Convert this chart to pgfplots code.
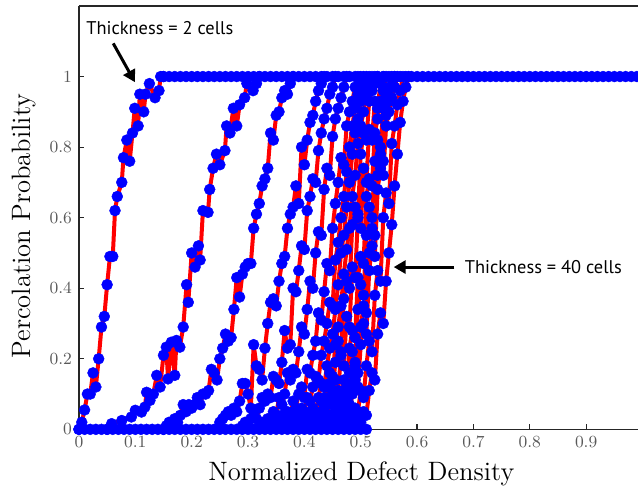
\documentclass[border=0pt]{standalone}
\usepackage{fontspec}
\usepackage{pgfplots}
\pgfplotsset{compat=1.18}
\usetikzlibrary{arrows.meta}
\newfontfamily\annfont{PT Sans}
\definecolor{mred}{RGB}{255,0,0}
\definecolor{mblue}{RGB}{0,0,255}
\begin{document}
\begin{tikzpicture}
\pgfplotsset{curve/.style={mred, line width=2pt, line join=round, line cap=round, mark=*, mark size=2.75pt, mark options={draw=mblue, fill=mblue, solid, line width=0.2pt}}}
\begin{axis}[
  name=ax,
  scale only axis,
  width=279.7pt, height=211.8pt,
  xmin=0, xmax=0.992, ymin=0, ymax=1.2,
  clip=false,
  axis x line=box, axis y line=left,
  axis line style={-, draw=black!85, line width=0.6pt},
  xtick={0,0.1,0.2,0.3,0.4,0.5,0.6,0.7,0.8,0.9},
  xticklabels={0,0.1,0.2,0.3,0.4,0.5,0.6,0.7,0.8,0.9},
  ytick={0,0.2,0.4,0.6,0.8,1},
  yticklabels={0,0.2,0.4,0.6,0.8,1},
  xtick pos=bottom, ytick pos=left,
  tick align=inside, major tick length=2.5pt,
  tick style={black!85, line width=0.6pt},
  tick label style={font=\fontsize{8.5}{10}\selectfont, color=black!65},
  xlabel={Normalized Defect Density},
  ylabel={Percolation Probability},
  label style={font=\fontsize{13.3}{16}\selectfont},
  xlabel style={at={(axis description cs:0.505,-0.1204)}, anchor=base},
  ylabel style={at={(axis description cs:-0.0983,0.48)}, anchor=center},
]
% flat parts (y = 0 and y = 1)
\addplot[curve] coordinates {(0,0)(0.01,0)(0.02,0)(0.03,0)(0.04,0)(0.05,0)(0.06,0)(0.07,0)(0.08,0)(0.09,0)(0.10,0)(0.11,0)(0.12,0)(0.13,0)(0.14,0)(0.15,0)(0.16,0)(0.17,0)(0.18,0)(0.19,0)(0.20,0)(0.21,0)(0.22,0)(0.23,0)(0.24,0)(0.25,0)(0.26,0)(0.27,0)(0.28,0)(0.29,0)(0.30,0)(0.31,0)(0.32,0)(0.33,0)(0.34,0)(0.35,0)(0.36,0)(0.37,0)(0.38,0)(0.39,0)(0.40,0)(0.41,0)(0.42,0)(0.43,0)(0.44,0)(0.45,0)(0.46,0)(0.47,0)(0.48,0)(0.49,0)(0.50,0)(0.51,0)};
\addplot[curve] coordinates {(0.15,1)(0.16,1)(0.17,1)(0.18,1)(0.19,1)(0.20,1)(0.21,1)(0.22,1)(0.23,1)(0.24,1)(0.25,1)(0.26,1)(0.27,1)(0.28,1)(0.29,1)(0.30,1)(0.31,1)(0.32,1)(0.33,1)(0.34,1)(0.35,1)(0.36,1)(0.37,1)(0.38,1)(0.39,1)(0.40,1)(0.41,1)(0.42,1)(0.43,1)(0.44,1)(0.45,1)(0.46,1)(0.47,1)(0.48,1)(0.49,1)(0.50,1)(0.51,1)(0.52,1)(0.53,1)(0.54,1)(0.55,1)(0.56,1)(0.57,1)(0.58,1)(0.59,1)(0.60,1)(0.61,1)(0.62,1)(0.63,1)(0.64,1)(0.65,1)(0.66,1)(0.67,1)(0.68,1)(0.69,1)(0.70,1)(0.71,1)(0.72,1)(0.73,1)(0.74,1)(0.75,1)(0.76,1)(0.77,1)(0.78,1)(0.79,1)(0.80,1)(0.81,1)(0.82,1)(0.83,1)(0.84,1)(0.85,1)(0.86,1)(0.87,1)(0.88,1)(0.89,1)(0.90,1)(0.91,1)(0.92,1)(0.93,1)(0.94,1)(0.95,1)(0.96,1)(0.97,1)(0.98,1)(0.99,1)};
% thickness 2
\addplot[curve] coordinates {(0,0)(0.005,0.02)(0.01,0.055)(0.015,0.10)(0.02,0.10)(0.025,0.16)(0.03,0.12)(0.035,0.20)(0.04,0.29)(0.045,0.32)(0.05,0.41)(0.055,0.49)(0.06,0.49)(0.064,0.62)(0.068,0.66)(0.076,0.70)(0.079,0.77)(0.085,0.82)(0.09,0.76)(0.095,0.84)(0.099,0.91)(0.105,0.86)(0.108,0.95)(0.115,0.90)(0.118,0.95)(0.125,0.98)(0.135,0.94)(0.142,0.96)(0.145,1)(0.15,1)};
% thickness 4
\addplot[curve] coordinates {(0.05,0)(0.058,0.016)(0.076,0.025)(0.093,0.035)(0.1,0.054)(0.111,0.049)(0.117,0.063)(0.12,0.105)(0.126,0.082)(0.132,0.10)(0.138,0.153)(0.144,0.12)(0.15,0.21)(0.155,0.233)(0.158,0.143)(0.164,0.247)(0.17,0.153)(0.173,0.252)(0.179,0.233)(0.185,0.29)(0.191,0.41)(0.194,0.36)(0.2,0.50)(0.206,0.46)(0.212,0.52)(0.215,0.48)(0.22,0.62)(0.229,0.615)(0.232,0.68)(0.238,0.74)(0.244,0.78)(0.25,0.75)(0.259,0.79)(0.262,0.86)(0.268,0.84)(0.274,0.91)(0.28,0.86)(0.285,0.92)(0.294,0.94)(0.298,0.98)(0.309,0.96)(0.315,0.98)(0.32,1)};
% thickness 6
\addplot[curve] coordinates {(0.15,0)(0.155,0.01)(0.16,0.02)(0.165,0.01)(0.17,0.03)(0.175,0.02)(0.18,0.04)(0.185,0.07)(0.19,0.05)(0.195,0.07)(0.2,0.06)(0.205,0.07)(0.21,0.09)(0.215,0.07)(0.22,0.10)(0.225,0.10)(0.23,0.11)(0.235,0.17)(0.24,0.16)(0.245,0.14)(0.25,0.20)(0.255,0.23)(0.26,0.27)(0.265,0.25)(0.27,0.26)(0.275,0.34)(0.28,0.43)(0.285,0.375)(0.29,0.44)(0.295,0.46)(0.3,0.47)(0.305,0.47)(0.31,0.57)(0.315,0.61)(0.32,0.64)(0.325,0.69)(0.33,0.71)(0.335,0.74)(0.34,0.84)(0.345,0.82)(0.35,0.89)(0.355,0.90)(0.36,0.94)(0.365,0.96)(0.37,0.95)(0.375,0.98)(0.38,1)};
% thickness 8
\addplot[curve] coordinates {(0.25,0.02)(0.255,0.03)(0.26,0.04)(0.265,0.05)(0.27,0.04)(0.275,0.06)(0.28,0.05)(0.285,0.08)(0.29,0.13)(0.295,0.13)(0.3,0.10)(0.305,0.06)(0.31,0.24)(0.315,0.18)(0.32,0.17)(0.325,0.14)(0.33,0.23)(0.335,0.30)(0.34,0.36)(0.345,0.37)(0.35,0.35)(0.355,0.42)(0.36,0.47)(0.365,0.49)(0.37,0.57)(0.375,0.61)(0.38,0.63)(0.385,0.69)(0.39,0.64)(0.395,0.80)(0.4,0.75)(0.405,0.82)(0.41,0.87)(0.415,0.89)(0.42,0.93)(0.425,0.96)(0.43,0.98)(0.435,1)};
% thickness 10
\addplot[curve] coordinates {(0.29,0.01)(0.295,0.02)(0.3,0.01)(0.305,0.03)(0.31,0.05)(0.315,0.03)(0.32,0.06)(0.325,0.09)(0.33,0.08)(0.335,0.10)(0.34,0.09)(0.345,0.15)(0.35,0.14)(0.355,0.13)(0.36,0.19)(0.365,0.28)(0.37,0.23)(0.375,0.24)(0.38,0.40)(0.385,0.39)(0.39,0.45)(0.395,0.52)(0.4,0.51)(0.405,0.62)(0.41,0.66)(0.415,0.71)(0.42,0.70)(0.425,0.79)(0.43,0.84)(0.435,0.88)(0.44,0.91)(0.445,0.95)(0.45,0.97)(0.455,1)};
% thickness 12
\addplot[curve] coordinates {(0.32,0.01)(0.325,0.02)(0.33,0.01)(0.335,0.03)(0.34,0.02)(0.345,0.05)(0.35,0.04)(0.355,0.09)(0.36,0.07)(0.365,0.10)(0.37,0.16)(0.375,0.14)(0.38,0.17)(0.385,0.16)(0.39,0.22)(0.395,0.29)(0.4,0.27)(0.405,0.34)(0.41,0.42)(0.415,0.40)(0.42,0.50)(0.425,0.56)(0.43,0.55)(0.435,0.68)(0.44,0.74)(0.445,0.72)(0.45,0.83)(0.455,0.88)(0.46,0.91)(0.465,0.94)(0.47,0.97)(0.475,1)};
% thickness 14
\addplot[curve] coordinates {(0.35,0.01)(0.355,0.02)(0.36,0.04)(0.365,0.02)(0.37,0.05)(0.375,0.03)(0.38,0.08)(0.385,0.06)(0.39,0.10)(0.395,0.12)(0.4,0.09)(0.405,0.17)(0.41,0.16)(0.415,0.21)(0.42,0.25)(0.425,0.33)(0.43,0.31)(0.435,0.39)(0.44,0.47)(0.445,0.45)(0.45,0.57)(0.455,0.64)(0.46,0.70)(0.465,0.77)(0.47,0.75)(0.475,0.86)(0.48,0.90)(0.485,0.93)(0.49,0.97)(0.495,1)};
% thickness 16
\addplot[curve] coordinates {(0.37,0.01)(0.375,0.03)(0.38,0.02)(0.385,0.04)(0.39,0.03)(0.395,0.06)(0.4,0.05)(0.405,0.09)(0.41,0.08)(0.415,0.12)(0.42,0.15)(0.425,0.14)(0.43,0.21)(0.435,0.25)(0.44,0.30)(0.445,0.36)(0.45,0.35)(0.455,0.48)(0.46,0.53)(0.465,0.60)(0.47,0.66)(0.475,0.73)(0.48,0.80)(0.485,0.86)(0.49,0.91)(0.495,0.95)(0.5,0.98)(0.505,1)};
% thickness 18
\addplot[curve] coordinates {(0.39,0.01)(0.395,0.02)(0.4,0.01)(0.405,0.04)(0.41,0.03)(0.415,0.06)(0.42,0.05)(0.425,0.09)(0.43,0.13)(0.435,0.12)(0.44,0.18)(0.445,0.23)(0.45,0.27)(0.455,0.34)(0.46,0.41)(0.465,0.50)(0.47,0.55)(0.475,0.63)(0.48,0.70)(0.485,0.78)(0.49,0.84)(0.495,0.88)(0.5,0.93)(0.505,0.96)(0.51,0.99)(0.515,1)};
% thickness 20
\addplot[curve] coordinates {(0.4,0.01)(0.405,0.02)(0.41,0.01)(0.415,0.03)(0.42,0.05)(0.425,0.04)(0.43,0.08)(0.435,0.07)(0.44,0.12)(0.445,0.16)(0.45,0.15)(0.455,0.24)(0.46,0.29)(0.465,0.35)(0.47,0.44)(0.475,0.51)(0.48,0.57)(0.485,0.66)(0.49,0.72)(0.495,0.81)(0.5,0.86)(0.505,0.90)(0.51,0.95)(0.515,0.97)(0.52,0.99)(0.525,1)};
% thickness 22
\addplot[curve] coordinates {(0.41,0.01)(0.415,0.02)(0.42,0.04)(0.425,0.02)(0.43,0.05)(0.435,0.09)(0.44,0.07)(0.445,0.13)(0.45,0.11)(0.455,0.19)(0.46,0.25)(0.465,0.22)(0.47,0.37)(0.475,0.42)(0.48,0.40)(0.485,0.58)(0.49,0.63)(0.495,0.61)(0.5,0.78)(0.505,0.84)(0.51,0.82)(0.515,0.93)(0.52,0.96)(0.525,0.98)(0.53,1)};
% thickness 24
\addplot[curve] coordinates {(0.42,0.01)(0.425,0.03)(0.43,0.02)(0.435,0.06)(0.44,0.04)(0.445,0.09)(0.45,0.07)(0.455,0.14)(0.46,0.11)(0.465,0.21)(0.47,0.18)(0.475,0.32)(0.48,0.29)(0.485,0.46)(0.49,0.43)(0.495,0.60)(0.5,0.57)(0.505,0.74)(0.51,0.70)(0.515,0.85)(0.52,0.82)(0.525,0.93)(0.53,0.91)(0.535,0.98)(0.54,1)};
% thickness 26
\addplot[curve] coordinates {(0.43,0.01)(0.435,0.02)(0.44,0.01)(0.445,0.04)(0.45,0.03)(0.455,0.06)(0.46,0.09)(0.465,0.08)(0.47,0.14)(0.475,0.12)(0.48,0.23)(0.485,0.28)(0.49,0.26)(0.495,0.43)(0.5,0.49)(0.505,0.47)(0.51,0.66)(0.515,0.71)(0.52,0.69)(0.525,0.84)(0.53,0.88)(0.535,0.93)(0.54,0.96)(0.545,1)};
% thickness 28
\addplot[curve] coordinates {(0.44,0.01)(0.445,0.02)(0.45,0.04)(0.455,0.02)(0.46,0.06)(0.465,0.05)(0.47,0.10)(0.475,0.08)(0.48,0.16)(0.485,0.22)(0.49,0.19)(0.495,0.34)(0.5,0.41)(0.505,0.38)(0.51,0.55)(0.515,0.63)(0.52,0.60)(0.525,0.76)(0.53,0.82)(0.535,0.80)(0.54,0.91)(0.545,0.95)(0.55,0.97)(0.555,1)};
% thickness 30
\addplot[curve] coordinates {(0.445,0.01)(0.45,0.02)(0.455,0.01)(0.46,0.03)(0.465,0.05)(0.47,0.04)(0.475,0.08)(0.48,0.07)(0.485,0.13)(0.49,0.18)(0.495,0.16)(0.5,0.29)(0.505,0.35)(0.51,0.33)(0.515,0.50)(0.52,0.57)(0.525,0.55)(0.53,0.72)(0.535,0.78)(0.54,0.76)(0.545,0.89)(0.55,0.93)(0.555,0.97)(0.56,1)};
% thickness 32
\addplot[curve] coordinates {(0.45,0.01)(0.455,0.03)(0.46,0.02)(0.465,0.04)(0.47,0.03)(0.475,0.07)(0.48,0.05)(0.485,0.10)(0.49,0.14)(0.495,0.12)(0.5,0.24)(0.505,0.30)(0.51,0.27)(0.515,0.45)(0.52,0.52)(0.525,0.49)(0.53,0.68)(0.535,0.74)(0.54,0.72)(0.545,0.86)(0.55,0.90)(0.555,0.94)(0.56,0.97)(0.565,1)};
% thickness 36
\addplot[curve] coordinates {(0.465,0.01)(0.47,0.02)(0.475,0.01)(0.48,0.04)(0.485,0.03)(0.49,0.06)(0.495,0.05)(0.5,0.11)(0.505,0.09)(0.51,0.18)(0.515,0.25)(0.52,0.22)(0.525,0.38)(0.53,0.45)(0.535,0.42)(0.54,0.60)(0.545,0.67)(0.55,0.64)(0.555,0.81)(0.56,0.86)(0.565,0.92)(0.57,0.96)(0.575,1)};
% thickness 40
\addplot[curve] coordinates {(0.48,0.01)(0.485,0.02)(0.49,0.01)(0.495,0.03)(0.5,0.02)(0.505,0.05)(0.51,0.04)(0.515,0.11)(0.52,0.16)(0.525,0.14)(0.53,0.27)(0.535,0.33)(0.54,0.30)(0.545,0.42)(0.55,0.50)(0.555,0.58)(0.56,0.69)(0.565,0.78)(0.57,0.87)(0.575,0.93)(0.58,0.97)(0.585,1)};
% annotations
\node[anchor=base west, inner sep=0pt, font=\annfont\fontsize{9.2}{11}\selectfont] at (axis cs:0.0124,1.119) {Thickness = 2 cells};
\draw[line width=1.5pt, -{Triangle[length=6pt,width=6.5pt]}] (axis cs:0.0608,1.094) -- (axis cs:0.0993,0.984);
\node[anchor=base west, inner sep=0pt, font=\annfont\fontsize{9.2}{11}\selectfont] at (axis cs:0.684,0.441) {Thickness = 40 cells};
\draw[line width=1.5pt, -{Triangle[length=6pt,width=6.5pt]}] (axis cs:0.666,0.46) -- (axis cs:0.5585,0.46);
\end{axis}
\pgfresetboundingbox
\path[use as bounding box] ([xshift=-39.5pt,yshift=-30.5pt]ax.south west) rectangle ([yshift=3pt]ax.north east);
\end{tikzpicture}
\end{document}
